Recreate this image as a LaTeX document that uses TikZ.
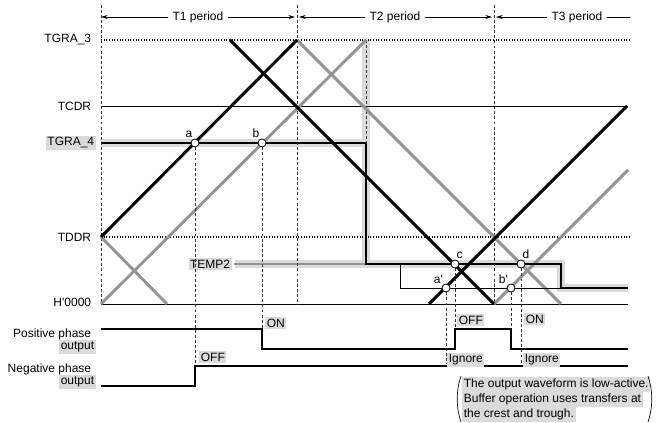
\documentclass[tikz,border=0pt]{standalone}
\usepackage{fontspec}
\setmainfont{Liberation Sans}
\usetikzlibrary{arrows.meta, positioning, calc}
\definecolor{hilite}{gray}{0.86}
\definecolor{wavegray}{gray}{0.58}

\begin{document}
\begin{tikzpicture}[x=0.75pt,y=-0.75pt,
  txt/.style={font=\fontsize{9}{11}\selectfont, inner sep=1.2pt},
  boxed/.style={txt, fill=hilite},
  notebox/.style={boxed, anchor=north west, text height=7pt, text depth=2pt, inner ysep=0.9pt},
  grid/.style={dash pattern=on 2.2pt off 1.6pt, line width=0.75pt, black!80},
  level/.style={line width=0.7pt},
  dotlevel/.style={dash pattern=on 0.8pt off 1.2pt, line width=0.8pt},
  wave/.style={line width=2.2pt},
  gwave/.style={line width=2.2pt, wavegray},
  outwave/.style={line width=1.1pt},
  per/.style={-{Stealth[length=5pt,width=3pt]}, line width=0.6pt},
  pt/.style={circle, draw, fill=white, inner sep=0pt, minimum size=6pt, line width=0.6pt}]
\useasboundingbox (0,0) rectangle (658,423);

% periods
\node[txt, fill=white, inner xsep=3pt] (t1) at (198,17) {T1 period};
\node[txt, fill=white, inner xsep=3pt] (t2) at (395,17) {T2 period};
\node[txt, fill=white, inner xsep=3pt] (t3) at (577,17) {T3 period};
\coordinate (b0) at (101,17);
\coordinate (b1l) at (295,17);
\coordinate (b1r) at (299,17);
\coordinate (b2l) at (492,17);
\coordinate (b2r) at (496,17);
\coordinate (b3) at (630,17);
\draw[per] (t1) -- (b0);
\draw[per] (t1) -- (b1l);
\draw[per] (t2) -- (b1r);
\draw[per] (t2) -- (b2l);
\draw[per] (t3) -- (b2r);
\draw[line width=0.6pt] (t3) -- (b3);

% register labels
\node[txt, anchor=east] (tgra3) at (93,40) {TGRA\_3};
\node[txt, anchor=east] (tcdr) at (93,106) {TCDR};
\node[boxed, anchor=east] (tgra4) at (96,143) {TGRA\_4};
\node[txt, anchor=east] (tddr) at (93,237) {TDDR};
\node[txt, anchor=east] (hzero) at (93,302) {H\textquotesingle 0000};

% highlight bands
\draw[hilite, line width=6pt, line join=miter] (101,143) -- (366,143);
\draw[hilite, line width=6pt, line join=miter] (366,40) -- (366,264);
\draw[hilite, line width=6pt, line join=miter] (235,264) -- (561,264) -- (561,288) -- (628,288);

% levels
\draw[dotlevel] (101,40) -- (630,40);
\draw[level] (101,106) -- (628,106);
\draw[dotlevel] (101,237) -- (630,237);
\draw[level] (101,304) -- (628,304);

\node[boxed, anchor=east] (temp2) at (232,264) {TEMP2};
\draw[wavegray, line width=1pt] ([xshift=1.5pt]temp2.east) -- (366,264);

% period borders
\draw[grid] (101,5) -- (101,304);
\draw[grid] (297,5) -- (297,304);
\draw[grid] (494,5) -- (494,304);
\draw[grid] (366,40) -- (366,143);

% counters
\draw[gwave] (101,304) -- (366,40);
\draw[gwave] (101,237) -- (167,304);
\draw[gwave] (297,40) -- (561,304);
\draw[gwave] (494,304) -- (628,170);
\draw[wave] (101,237) -- (297,40);
\draw[wave] (230,40) -- (494,304);
\draw[wave] (429,304) -- (627,106);

% compare register
\draw[wave, line join=miter] (101,143) -- (366,143) -- (366,264) -- (561,264) -- (561,288) -- (628,288);
\draw[level] (400,264) -- (400,288) -- (561,288);

% compare matches
\node[pt, label={[txt, inner sep=0.5pt]112:a}] (pa) at (195,143) {};
\node[pt, label={[txt, inner sep=0.5pt]112:b}] (pb) at (262,143) {};
\node[pt, label={[txt, inner sep=0.5pt]80:c}] (pc) at (455,264) {};
\node[pt, label={[txt, inner sep=0.5pt]80:d}] (pd) at (521,264) {};
\node[pt, label={[txt, inner sep=0.5pt]120:a\textquotesingle}] (pa2) at (446,288) {};
\node[pt, label={[txt, inner sep=0.5pt]120:b\textquotesingle}] (pb2) at (511,288) {};

% outputs
\node[txt, anchor=east] (pos1) at (93,334) {Positive phase};
\node[boxed, anchor=east] (pos2) at (96,347) {output};
\node[txt, anchor=east] (neg1) at (93,369) {Negative phase};
\node[boxed, anchor=east] (neg2) at (96,382) {output};

\coordinate (da) at (195,366);
\coordinate (db) at (262,329);
\coordinate (dc) at (455,329);
\coordinate (dd) at (521,364);
\coordinate (da2) at (446,364);
\coordinate (db2) at (511,329);
\draw[grid] (pa) -- (da);
\draw[grid] (pb) -- (db);
\draw[grid] (pc) -- (dc);
\draw[grid] (pd) -- (dd);
\draw[grid] (pa2) -- (da2);
\draw[grid] (pb2) -- (db2);

\draw[outwave] (101,329) -| (262,349) -| (455,329) -| (511,349) -- (628,349);
\draw[outwave] (101,386) -| (195,366) -- (628,366);

\node[boxed, anchor=west] (on1) at (265,323) {ON};
\node[boxed, anchor=west] (off1) at (199,357) {OFF};
\node[boxed, anchor=west] (off2) at (457,320) {OFF};
\node[boxed, anchor=west] (on2) at (524,319) {ON};
\node[boxed, anchor=west] (ign1) at (447,360) {Ignore};
\node[boxed, anchor=west] (ign2) at (523,360) {Ignore};

% note
\node[notebox] (n1) at (462,377) {The output waveform is low-active.};
\node[notebox, below=0pt of n1.south west, anchor=north west] (n2) {Buffer operation uses transfers at};
\node[notebox, below=0pt of n2.south west, anchor=north west] (n3) {the crest and trough.};
\draw[line width=0.5pt] (461,376) .. controls (456,390) and (456,408) .. (461,422);
\draw[line width=0.5pt] (648,376) .. controls (653,390) and (653,408) .. (648,422);
\end{tikzpicture}
\end{document}
